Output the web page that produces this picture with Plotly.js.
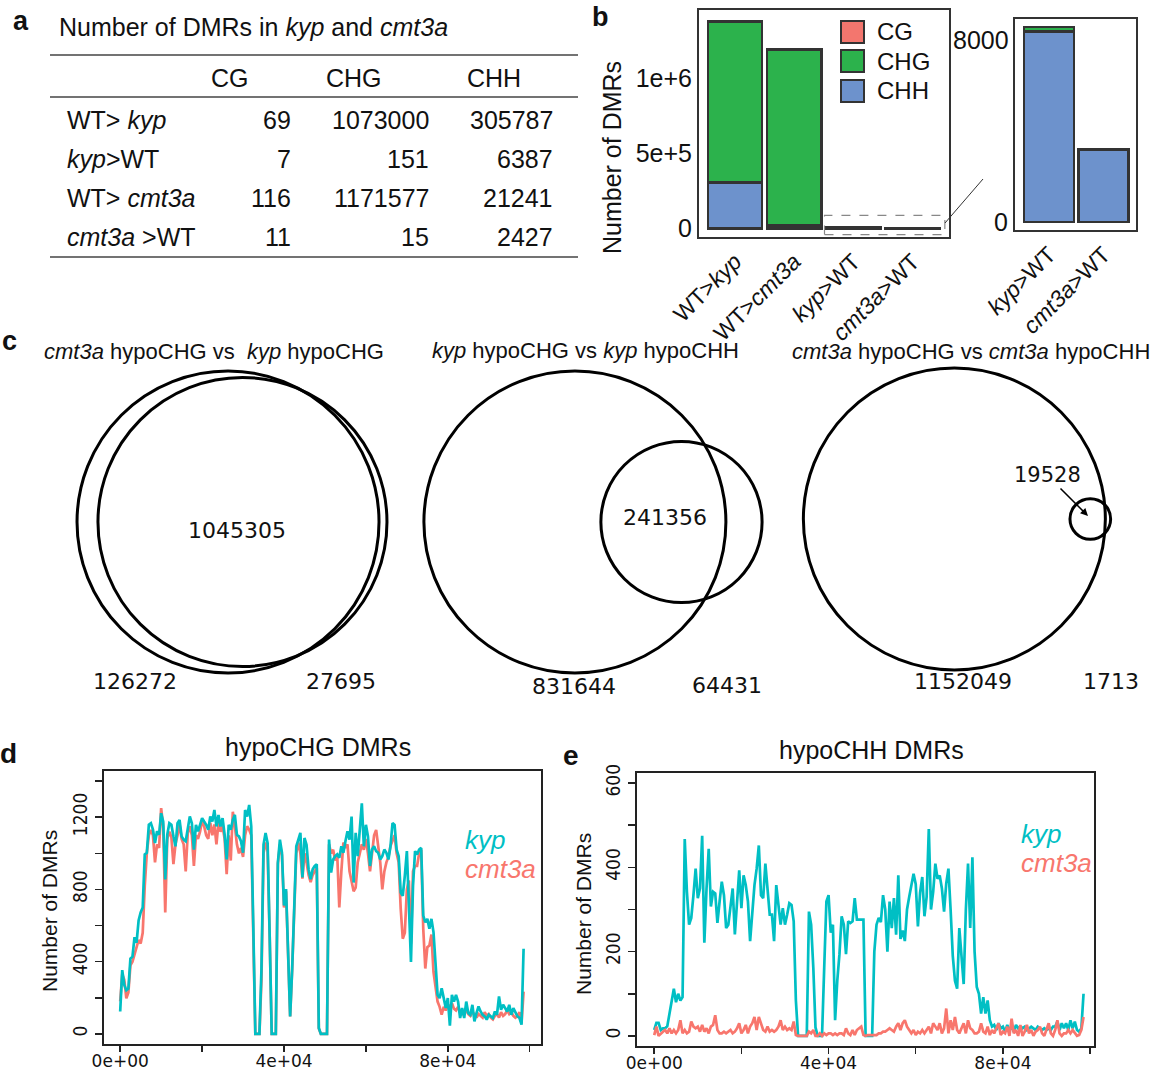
<!DOCTYPE html>
<html>
<head>
<meta charset="utf-8">
<script src="https://cdn.plot.ly/plotly-3.0.1.min.js"></script>
<style>
html,body{margin:0;padding:0;background:#fff;}
#chart{width:1157px;height:1075px;}
.subplot.x3y3 .xtick text, .subplot.x4y4 .xtick text {letter-spacing:3px;}
</style>
</head>
<body>
<div id="chart"></div>
<script>
// ---------------- DATA ----------------
// (a) table
const tableTitle = "Number of DMRs in <i>kyp</i> and <i>cmt3a</i>";
const tableRowLabels = ["WT&gt; <i>kyp</i>", "<i>kyp</i>&gt;WT", "WT&gt; <i>cmt3a</i>", "<i>cmt3a</i> &gt;WT"];
const contexts = ["CG", "CHG", "CHH"];
const dmrCG  = [69, 7, 116, 11];
const dmrCHG = [1073000, 151, 1171577, 15];
const dmrCHH = [305787, 6387, 21241, 2427];

// (b) bar charts
const barRows = [0, 2, 1, 3];                 // table rows shown as bars
const barCats = ["WT>kyp", "WT>cmt3a", "kyp>WT", "cmt3a>WT"];
const barLabels = ["WT&gt;<i>kyp</i>", "WT&gt;<i>cmt3a</i>", "<i>kyp</i>&gt;WT", "<i>cmt3a</i>&gt;WT"];
const insetRows = [1, 3];
const insetCats = ["kyp>WT", "cmt3a>WT"];
const insetLabels = ["<i>kyp</i>&gt;WT", "<i>cmt3a</i>&gt;WT"];
const mainTickVals = [0, 500000, 1000000];
const mainTickText = ["0", "5e+5", "1e+6"];
const insetTickText = ["0", "8000"];
const contextColors = ["#F3766E", "#2CB24C", "#6D92CC"];

// (c) Venn diagrams: [left only, both, right only]
const vennTitles = ["<i>cmt3a</i> hypoCHG vs  <i>kyp</i> hypoCHG",
                    "<i>kyp</i> hypoCHG vs <i>kyp</i> hypoCHH",
                    "<i>cmt3a</i> hypoCHG vs <i>cmt3a</i> hypoCHH"];
const venn1Counts = [126272, 1045305, 27695];
const venn2Counts = [831644, 241356, 64431];
const venn3Counts = [1152049, 19528, 1713];

// (d),(e) DMR counts along the chromosome, bins of 500
const binSize = 500;
const chgKyp = [124,353,271,242,251,417,428,536,505,628,
673,700,994,1003,1158,1167,1131,1057,1122,1103,
1222,1176,856,1103,1167,1158,1094,1039,1167,1185,
1094,1076,1067,1140,1204,1167,1021,1158,1122,1158,
1195,1176,1158,1131,1204,1176,1240,1149,1213,1149,
1195,1103,966,1158,1131,1185,1213,1103,1094,1067,
1003,1240,1204,1268,1150,600,0,0,0,362,
1048,1113,1057,545,0,0,0,948,1076,1003,
711,802,435,97,362,747,1039,1076,1113,866,
1085,1048,912,856,912,930,939,33,0,0,
0,0,1076,893,966,984,994,975,1039,1003,
1067,1122,1076,1204,838,1113,984,1158,1277,1039,
1158,1094,930,1021,1039,1012,1003,966,984,1021,
1003,966,1039,1168,1158,1021,984,783,765,875,
1012,710,399,820,1012,994,1021,1030,655,618,
637,582,637,564,362,216,198,252,198,143,
198,45,216,179,216,179,88,143,88,179,
115,106,161,69,115,152,124,106,97,79,
106,97,88,124,106,207,134,161,143,124,
161,106,143,115,97,88,51,472];
const chgCmt3a = [180,330,300,197,230,380,400,440,470,520,
500,560,820,1000,1100,1130,1100,950,1050,1030,
1250,1150,673,1080,1120,1090,940,1050,1100,1160,
1080,1050,900,1110,1150,1100,930,1100,1080,1120,
1180,1150,1100,1080,1170,1100,1160,1050,1170,1120,
1150,1080,884,1100,960,1230,1150,1050,1000,1030,
980,1100,1150,1130,1100,600,0,0,0,300,
1000,1060,1010,540,0,0,0,940,1050,990,
700,790,430,97,360,740,1000,1060,1000,860,
1000,950,880,840,880,900,920,30,0,0,
0,0,1050,1000,1020,960,990,700,900,1060,
1030,1050,900,850,790,810,950,1000,1050,1020,
1080,1000,900,1000,1100,1130,1050,950,800,900,
950,980,1040,1070,1100,1000,950,692,527,560,
800,850,500,900,930,930,1000,1020,582,362,
480,490,550,344,250,179,150,106,150,130,
160,150,170,140,130,150,120,110,120,130,
110,100,120,110,90,110,100,90,120,100,
110,90,80,100,110,90,120,100,110,130,
110,120,100,90,100,120,60,234];
const chhKyp = [14,31,31,14,18,18,23,53,84,112,
80,100,84,92,467,342,264,280,334,397,
327,350,475,221,350,444,307,342,338,268,
319,366,334,256,264,303,350,241,319,393,
303,381,358,319,225,303,358,397,452,334,
327,409,342,288,288,225,358,303,264,303,
264,288,315,311,272,84,0,0,0,0,
0,295,264,162,20,0,0,0,162,319,
334,245,264,37,131,194,284,264,194,272,
268,272,327,276,276,276,276,0,0,0,
0,200,264,280,270,334,300,200,319,256,
327,240,381,230,250,225,300,330,358,385,
360,260,340,377,284,330,491,300,342,409,
373,381,350,295,362,397,300,190,131,112,
256,194,123,300,409,256,424,200,116,100,
53,92,53,84,37,22,26,14,30,18,
22,10,26,14,22,10,26,18,22,18,
22,14,18,22,18,14,22,18,14,18,
14,18,14,22,22,34,14,30,18,30,
14,37,18,34,14,10,18,100];
const chhCmt3a = [2,22,0,6,10,14,6,18,6,14,
6,14,37,6,14,6,10,34,22,18,
22,10,26,10,18,6,22,26,49,14,
6,6,10,6,10,14,6,10,18,30,
6,14,26,6,22,30,45,14,45,30,
14,10,22,10,14,10,14,22,37,14,
22,14,18,14,34,2,0,0,0,0,
0,10,6,14,0,0,6,0,6,2,
6,6,2,6,2,6,6,2,18,6,
2,14,2,14,18,22,2,0,2,2,
2,2,2,6,6,10,10,14,18,14,
10,22,30,14,30,37,22,14,6,14,
2,10,6,14,6,14,22,6,30,22,
14,30,6,18,65,6,37,14,45,14,
6,18,30,6,37,18,14,6,6,10,
30,10,6,22,2,14,6,18,30,2,
10,6,22,0,41,6,14,0,26,0,
10,26,6,14,0,10,14,22,6,0,
18,30,6,0,14,37,6,0,6,6,
14,6,14,6,0,2,14,45];
const lineXTickVals = [0, 20000, 40000, 60000, 80000, 100000];
const lineXTickText = ["0e+00", "", "4e+04", "", "8e+04", ""];
const chgYTickVals = [0, 200, 400, 600, 800, 1000, 1200, 1400];
const chgYTickText = ["0", "", "400", "", "800", "", "1200", ""];
const chhYTickVals = [0, 100, 200, 300, 400, 500, 600];
const chhYTickText = ["0", "", "200", "", "400", "", "600"];
const seriesNames = ["kyp", "cmt3a"];
const seriesColors = ["#00BFC4", "#F8766D"];

// ---------------- LAYOUT HELPERS ----------------
const W = 1157, H = 1075;
const FONT = "Liberation Sans, Arial, sans-serif";
const NARROW = "Liberation Sans Narrow, DejaVu Sans Condensed, Arial Narrow, sans-serif";
const px = x => x / W;
const py = y => 1 - y / H;
const annotations = [];
const shapes = [];
function txt(text, x, y, size, opts) {
  const o = Object.assign({xanchor: 'center', yanchor: 'middle', color: '#111', family: FONT, angle: 0}, opts || {});
  annotations.push({xref: 'paper', yref: 'paper', x: px(x), y: py(y), text: text, showarrow: false,
    xanchor: o.xanchor, yanchor: o.yanchor, textangle: o.angle,
    font: {family: o.family, size: size, color: o.color}});
}
function pline(x0, y0, x1, y1, color, width, dash) {
  shapes.push({type: 'line', xref: 'paper', yref: 'paper', x0: px(x0), y0: py(y0), x1: px(x1), y1: py(y1),
    line: {color: color, width: width, dash: dash || 'solid'}});
}

// ---------------- (a) TABLE ----------------
txt("<b>a</b>", 21, 21, 27);
txt(tableTitle, 57, 27, 25, {xanchor: 'left'});
pline(50, 55, 578, 55, '#444', 1.5);
pline(50, 97, 578, 97, '#444', 1.5);
pline(50, 257, 578, 257, '#444', 1.5);
const headerX = [230, 354, 494];
contexts.forEach((c, i) => txt(c, headerX[i], 78, 25));
const colRight = [293, 431, 555];
const rowY = [120, 159, 198, 237];
const tableCols = [dmrCG, dmrCHG, dmrCHH];
tableRowLabels.forEach((lab, r) => {
  txt(lab, 65, rowY[r], 25, {xanchor: 'left'});
  tableCols.forEach((col, c) => txt(String(col[r]), colRight[c], rowY[r], 25, {xanchor: 'right'}));
});

// ---------------- (b) BARS ----------------
txt("<b>b</b>", 600, 17, 27);
const traces = [];
const stackOrder = [2, 1, 0]; // CHH bottom, CHG, CG top
stackOrder.forEach(ci => {
  const col = tableCols[ci];
  traces.push({type: 'bar', x: barCats, y: barRows.map(r => col[r]), xaxis: 'x', yaxis: 'y',
    marker: {color: contextColors[ci], line: {color: '#333', width: 2.5}}, showlegend: false, hoverinfo: 'skip'});
  traces.push({type: 'bar', x: insetCats, y: insetRows.map(r => col[r]), xaxis: 'x2', yaxis: 'y2',
    marker: {color: contextColors[ci], line: {color: '#333', width: 2.5}}, showlegend: false, hoverinfo: 'skip'});
});
// legend keys
const legY = [32, 61, 91];
contexts.forEach((c, i) => {
  shapes.push({type: 'rect', xref: 'paper', yref: 'paper', x0: px(841), x1: px(864), y0: py(legY[i] - 11), y1: py(legY[i] + 11),
    fillcolor: contextColors[i], line: {color: '#333', width: 2}});
  txt(c, 875, legY[i], 24, {xanchor: 'left'});
});
txt("Number of DMRs", 612, 158, 25, {angle: -90});
// zoom box + connector
shapes.push({type: 'rect', xref: 'x', yref: 'y', x0: 1.51, x1: 3.54, y0: -40000, y1: 88000,
  line: {color: '#888', width: 1.2, dash: 'dash'}});
pline(945, 223, 983, 179, '#333', 1);
txt(insetTickText[1], 1011, 40, 25, {xanchor: 'right'});

// ---------------- (c) VENN ----------------
txt("<b>c</b>", 9, 341, 27);
function lens(r1, r2, d) {
  if (d >= r1 + r2) return 0;
  if (d <= Math.abs(r1 - r2)) return Math.PI * Math.min(r1, r2) ** 2;
  const a = r1 * r1 * Math.acos((d * d + r1 * r1 - r2 * r2) / (2 * d * r1));
  const b = r2 * r2 * Math.acos((d * d + r2 * r2 - r1 * r1) / (2 * d * r2));
  const c = 0.5 * Math.sqrt((-d + r1 + r2) * (d + r1 - r2) * (d - r1 + r2) * (d + r1 + r2));
  return a + b - c;
}
const vennCfg = [
  {counts: venn1Counts, cx: 232, cy: 522, titleX: 42, titleY: 352,
   labels: [[135, 681], [237, 530], [341, 681]]},
  {counts: venn2Counts, cx: 593, cy: 522, titleX: 430, titleY: 350,
   labels: [[574, 686], [665, 518], [727, 685]]},
  {counts: venn3Counts, cx: 957, cy: 519, titleX: 790, titleY: 352,
   labels: [[963, 681], null, [1111, 681]]}
];
const RMAX = 151;
vennCfg.forEach((v, i) => {
  const A = v.counts[0] + v.counts[1], B = v.counts[1] + v.counts[2];
  const M = Math.max(A, B);
  const rA = RMAX * Math.sqrt(A / M), rB = RMAX * Math.sqrt(B / M);
  const target = v.counts[1] / M * Math.PI * RMAX * RMAX;
  let lo = Math.abs(rA - rB) + 1e-6, hi = rA + rB;
  for (let k = 0; k < 80; k++) { const mid = (lo + hi) / 2; if (lens(rA, rB, mid) > target) lo = mid; else hi = mid; }
  const d = (lo + hi) / 2;
  const left = Math.min(-rA, d - rB), right = Math.max(rA, d + rB);
  const cA = v.cx - (left + right) / 2, cB = cA + d;
  [[cA, rA], [cB, rB]].forEach(([c, r]) => shapes.push({type: 'circle', xref: 'x5', yref: 'y5',
    x0: c - r, x1: c + r, y0: v.cy - r, y1: v.cy + r, line: {color: '#000', width: 3}}));
  txt(vennTitles[i], v.titleX, v.titleY, 22, {xanchor: 'left'});
  v.labels.forEach((p, j) => { if (p) txt(String(v.counts[j]), p[0], p[1], 22, {family: "DejaVu Sans, sans-serif"}); });
});
annotations.push({xref: 'paper', yref: 'paper', x: px(1088), y: py(516), ax: -41, ay: -41,
  text: String(venn3Counts[1]), showarrow: true, arrowhead: 2, arrowsize: 1, arrowwidth: 1.5, arrowcolor: '#000',
  font: {family: "DejaVu Sans, sans-serif", size: 21, color: '#111'}});
traces.push({type: 'scatter', x: [0], y: [0], xaxis: 'x5', yaxis: 'y5', mode: 'markers',
  marker: {size: 1, color: 'rgba(0,0,0,0)'}, showlegend: false, hoverinfo: 'skip'});

// ---------------- (d),(e) LINES ----------------
const xs = chgKyp.map((_, k) => k * binSize);
traces.push({type: 'scatter', mode: 'lines', x: xs, y: chgCmt3a, xaxis: 'x3', yaxis: 'y3',
  line: {color: seriesColors[1], width: 2.7}, showlegend: false, hoverinfo: 'skip'});
traces.push({type: 'scatter', mode: 'lines', x: xs, y: chgKyp, xaxis: 'x3', yaxis: 'y3',
  line: {color: seriesColors[0], width: 2.7}, showlegend: false, hoverinfo: 'skip'});
traces.push({type: 'scatter', mode: 'lines', x: xs, y: chhKyp, xaxis: 'x4', yaxis: 'y4',
  line: {color: seriesColors[0], width: 2.7}, showlegend: false, hoverinfo: 'skip'});
traces.push({type: 'scatter', mode: 'lines', x: xs, y: chhCmt3a, xaxis: 'x4', yaxis: 'y4',
  line: {color: seriesColors[1], width: 2.7}, showlegend: false, hoverinfo: 'skip'});

txt("<b>d</b>", 8, 753, 28);
txt("<b>e</b>", 571, 755, 28);
txt("hypoCHG DMRs", 318, 747, 25);
txt("hypoCHH DMRs", 871, 750, 25);
txt("Number of DMRs", 49, 911, 21, {angle: -90});
txt("Number of DMRs", 583, 914, 21, {angle: -90});
txt("<i>" + seriesNames[0] + "</i>", 463, 840, 26, {xanchor: 'left', color: seriesColors[0]});
txt("<i>" + seriesNames[1] + "</i>", 463, 869, 26, {xanchor: 'left', color: seriesColors[1]});
txt("<i>" + seriesNames[0] + "</i>", 1019, 834, 26, {xanchor: 'left', color: seriesColors[0]});
txt("<i>" + seriesNames[1] + "</i>", 1019, 863, 26, {xanchor: 'left', color: seriesColors[1]});

// ---------------- AXES ----------------
const boxAxis = {showline: true, mirror: true, linecolor: '#333', linewidth: 2, showgrid: false, zeroline: false, fixedrange: true};
const lineXAxis = Object.assign({}, boxAxis, {tickvals: lineXTickVals, ticktext: lineXTickText,
  ticks: 'outside', ticklen: 6, tickwidth: 1.5, tickcolor: '#222', linecolor: '#222', ticklabelstandoff: -5,
  tickfont: {family: "DejaVu Sans, sans-serif", size: 17, color: '#111'}});
const lineYAxis = Object.assign({}, boxAxis, {ticks: 'outside', ticklen: 7, tickwidth: 1.5, tickcolor: '#222', linecolor: '#222',
  tickangle: -90, tickfont: {family: NARROW, size: 19, color: '#111'}});

const layout = {
  width: W, height: H, margin: {l: 0, r: 0, t: 0, b: 0},
  paper_bgcolor: '#fff', plot_bgcolor: 'rgba(0,0,0,0)',
  barmode: 'stack', bargap: 0.085, showlegend: false,
  xaxis: Object.assign({}, boxAxis, {domain: [px(699), px(949)], anchor: 'y', type: 'category',
    range: [-0.607, 3.61], tickvals: barCats, ticktext: barLabels, ticks: '', tickangle: -45,
    tickfont: {family: FONT, size: 23, color: '#111'}}),
  yaxis: Object.assign({}, boxAxis, {domain: [py(237), py(10)], anchor: 'x', range: [-56000, 1456000],
    tickvals: mainTickVals, ticktext: mainTickText, ticks: '', tickfont: {family: FONT, size: 25, color: '#111'}}),
  xaxis2: Object.assign({}, boxAxis, {domain: [px(1015), px(1136)], anchor: 'y2', type: 'category',
    range: [-0.624, 1.596], tickvals: insetCats, ticktext: insetLabels, ticks: '', tickangle: -45,
    tickfont: {family: FONT, size: 23, color: '#111'}}),
  yaxis2: Object.assign({}, boxAxis, {domain: [py(230), py(19)], anchor: 'x2', range: [-262, 6807],
    tickvals: [0], ticktext: [insetTickText[0]], ticks: '', tickfont: {family: FONT, size: 25, color: '#111'}}),
  xaxis3: Object.assign({}, lineXAxis, {domain: [px(104), px(541)], anchor: 'y3', range: [-3952, 102752]}),
  yaxis3: Object.assign({}, lineYAxis, {domain: [py(1044), py(771)], anchor: 'x3', range: [-56, 1456],
    tickvals: chgYTickVals, ticktext: chgYTickText}),
  xaxis4: Object.assign({}, lineXAxis, {domain: [px(637), px(1094)], anchor: 'y4', range: [-3952, 100900]}),
  yaxis4: Object.assign({}, lineYAxis, {domain: [py(1046), py(773)], anchor: 'x4', range: [-24, 624],
    tickvals: chhYTickVals, ticktext: chhYTickText}),
  xaxis5: {domain: [0, 1], range: [0, W], visible: false, fixedrange: true, anchor: 'y5'},
  yaxis5: {domain: [0, 1], range: [H, 0], visible: false, fixedrange: true, anchor: 'x5'},
  annotations: annotations, shapes: shapes
};
Plotly.newPlot('chart', traces, layout, {staticPlot: true, displayModeBar: false});
</script>
</body>
</html>
